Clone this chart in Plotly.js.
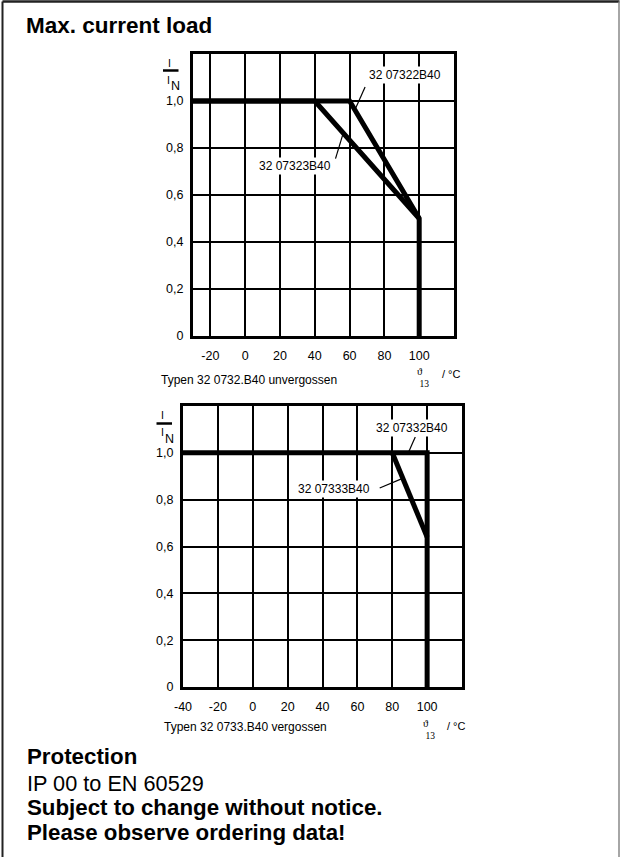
<!DOCTYPE html>
<html>
<head>
<meta charset="utf-8">
<script src="https://cdn.plot.ly/plotly-3.0.1.min.js"></script>
<style>
html,body{margin:0;padding:0;background:#fff;}
#chart{width:620px;height:857px;}
</style>
</head>
<body>
<div id="chart"></div>
<script>
// ---- data ----
const topXTicks = [-20, 0, 20, 40, 60, 80, 100];
const topXTickText = ['-20', '0', '20', '40', '60', '80', '100'];
const botXTicks = [-40, -20, 0, 20, 40, 60, 80, 100];
const botXTickText = ['-40', '-20', '0', '20', '40', '60', '80', '100'];
const yTicks = [0, 0.2, 0.4, 0.6, 0.8, 1.0];
const yTickText = ['0', '0,2', '0,4', '0,6', '0,8', '1,0'];

// top chart: Typen 32 0732.B40 unvergossen
const s07322_x = [-30, 60, 100, 100];
const s07322_y = [1.0, 1.0, 0.5, 0];
const s07323_x = [-30, 40, 100];
const s07323_y = [1.0, 1.0, 0.5];

// bottom chart: Typen 32 0733.B40 vergossen
const s07332_x = [-40, 100, 100];
const s07332_y = [1.0, 1.0, 0];
const s07333_x = [80, 100];
const s07333_y = [1.0, 0.64];

const W = 620, H = 857;
const px = v => v / W;
const py = v => 1 - v / H;
const SANS = 'Liberation Sans, Arial, Helvetica, sans-serif';
const SERIF = 'Liberation Serif, DejaVu Serif, Times New Roman, serif';

const lineStyle = {color: '#000', width: 5};
const traces = [
  {x: s07322_x, y: s07322_y, xaxis: 'x', yaxis: 'y', mode: 'lines', line: lineStyle, name: '32 07322B40', hoverinfo: 'skip'},
  {x: s07323_x, y: s07323_y, xaxis: 'x', yaxis: 'y', mode: 'lines', line: lineStyle, name: '32 07323B40', hoverinfo: 'skip'},
  {x: s07332_x, y: s07332_y, xaxis: 'x2', yaxis: 'y2', mode: 'lines', line: lineStyle, name: '32 07332B40', hoverinfo: 'skip'},
  {x: s07333_x, y: s07333_y, xaxis: 'x2', yaxis: 'y2', mode: 'lines', line: lineStyle, name: '32 07333B40', hoverinfo: 'skip'}
];

function xAxis(domain, range, ticks, tickText, anchor) {
  return {
    domain: domain, range: range, tickvals: ticks, ticktext: tickText, ticks: '', anchor: anchor,
    showgrid: true, gridcolor: '#000', gridwidth: 2, zeroline: false,
    showline: true, mirror: true, linecolor: '#000', linewidth: 3,
    tickfont: {family: SANS, size: 12.5, color: '#000'}, ticklabelstandoff: 6, fixedrange: true
  };
}
function yAxis(domain, anchor) {
  return {
    domain: domain, range: [0, 1.2], tickvals: yTicks, ticktext: yTickText, ticks: '', anchor: anchor,
    showgrid: true, gridcolor: '#000', gridwidth: 2, zeroline: false,
    showline: true, mirror: true, linecolor: '#000', linewidth: 3,
    tickfont: {family: SANS, size: 12.5, color: '#000'}, ticklabelstandoff: 4, fixedrange: true
  };
}

const ann = [];
function txt(x, y, text, size, opts) {
  ann.push(Object.assign({
    xref: 'paper', yref: 'paper', x: px(x), y: py(y), text: text, showarrow: false,
    xanchor: 'left', yanchor: 'middle', font: {family: SANS, size: size, color: '#000'}
  }, opts || {}));
}

// page texts
txt(23.5, 25.5, '<b>Max. current load</b>', 22.5);
txt(24.5, 756.5, '<b>Protection</b>', 22.3);
txt(24.5, 783, 'IP 00 to EN 60529', 21.7);
txt(24.5, 807.5, '<b>Subject to change without notice.</b>', 22.3);
txt(24.5, 832.5, '<b>Please observe ordering data!</b>', 22.3);

// chart captions
txt(159, 380, 'Typen 32 0732.B40 unvergossen', 12);
txt(162, 727, 'Typen 32 0733.B40 vergossen', 12);

// y-axis titles  I / I_N
txt(169, 63, 'I', 10.5, {xanchor: 'center'});
txt(168.5, 80, 'I', 10.5, {xanchor: 'center'});
txt(175.5, 86.5, 'N', 12.5, {xanchor: 'center'});
txt(162.5, 415, 'I', 10.5, {xanchor: 'center'});
txt(162, 431.5, 'I', 10.5, {xanchor: 'center'});
txt(169.5, 439, 'N', 12.5, {xanchor: 'center'});

// x-axis titles  theta_13 / °C
const thetaLabel = '<span style="font-size:10.5px">ϑ</span><br><span style="font-size:9.5px"> 13</span>';
txt(415, 377.5, thetaLabel, 8.9, {align: 'left', font: {family: SERIF, size: 8.9, color: '#000'}});
txt(451, 373.5, '/ °C', 11, {xanchor: 'center'});
txt(420.5, 729.5, thetaLabel, 8.9, {align: 'left', font: {family: SERIF, size: 8.9, color: '#000'}});
txt(456, 726, '/ °C', 11, {xanchor: 'center'});

// series labels (data coordinates)
function lab(xr, yr, x, y, text) {
  ann.push({xref: xr, yref: yr, x: x, y: y, text: text, showarrow: false,
    xanchor: 'left', yanchor: 'middle', bgcolor: '#fff', borderpad: 1,
    font: {family: SANS, size: 12, color: '#000'}});
}
lab('x', 'y', 69.8, 1.111, '32 07322B40');
lab('x', 'y', 6.8, 0.724, '32 07323B40');
lab('x2', 'y2', 69.5, 1.105, '32 07332B40');
lab('x2', 'y2', 24.6, 0.847, '32 07333B40');

const leader = {color: '#000', width: 1.2};
const shapes = [
  // leader lines
  {type: 'line', xref: 'x', yref: 'y', x0: 68.9, y0: 1.06, x1: 63.2, y1: 0.965, line: leader},
  {type: 'line', xref: 'x', yref: 'y', x0: 51.9, y0: 0.755, x1: 56.3, y1: 0.862, line: leader},
  {type: 'line', xref: 'x2', yref: 'y2', x0: 93.2, y0: 1.068, x1: 89.2, y1: 1.0, line: leader},
  {type: 'line', xref: 'x2', yref: 'y2', x0: 72.8, y0: 0.850, x1: 85.6, y1: 0.89, line: leader},
  // fraction bars
  {type: 'line', xref: 'paper', yref: 'paper', x0: px(163), x1: px(178.5), y0: py(70.5), y1: py(70.5), line: {color: '#000', width: 2.5}},
  {type: 'line', xref: 'paper', yref: 'paper', x0: px(156.5), x1: px(172), y0: py(423.5), y1: py(423.5), line: {color: '#000', width: 2.5}},
  // page frame
  {type: 'line', xref: 'paper', yref: 'paper', x0: px(2.5), x1: px(2.5), y0: 0, y1: py(1.5), line: {color: '#222', width: 2}},
  {type: 'line', xref: 'paper', yref: 'paper', x0: px(2.5), x1: px(619.5), y0: py(1.5), y1: py(1.5), line: {color: '#222', width: 2.5}},
  {type: 'line', xref: 'paper', yref: 'paper', x0: px(619), x1: px(619), y0: 0, y1: py(1.5), line: {color: '#888', width: 1.5}}
];

const layout = {
  width: W, height: H, autosize: false,
  margin: {l: 0, r: 0, t: 0, b: 0, pad: 0},
  paper_bgcolor: '#fff', plot_bgcolor: '#fff',
  showlegend: false,
  font: {family: SANS, size: 12, color: '#000'},
  xaxis: xAxis([px(193), px(454)], [-30, 120], topXTicks, topXTickText, 'y'),
  yaxis: yAxis([py(336), py(54)], 'x'),
  xaxis2: xAxis([px(183), px(462)], [-40, 120], botXTicks, botXTickText, 'y2'),
  yaxis2: yAxis([py(687), py(406)], 'x2'),
  annotations: ann,
  shapes: shapes
};

Plotly.newPlot('chart', traces, layout, {staticPlot: true, displayModeBar: false});
</script>
</body>
</html>
